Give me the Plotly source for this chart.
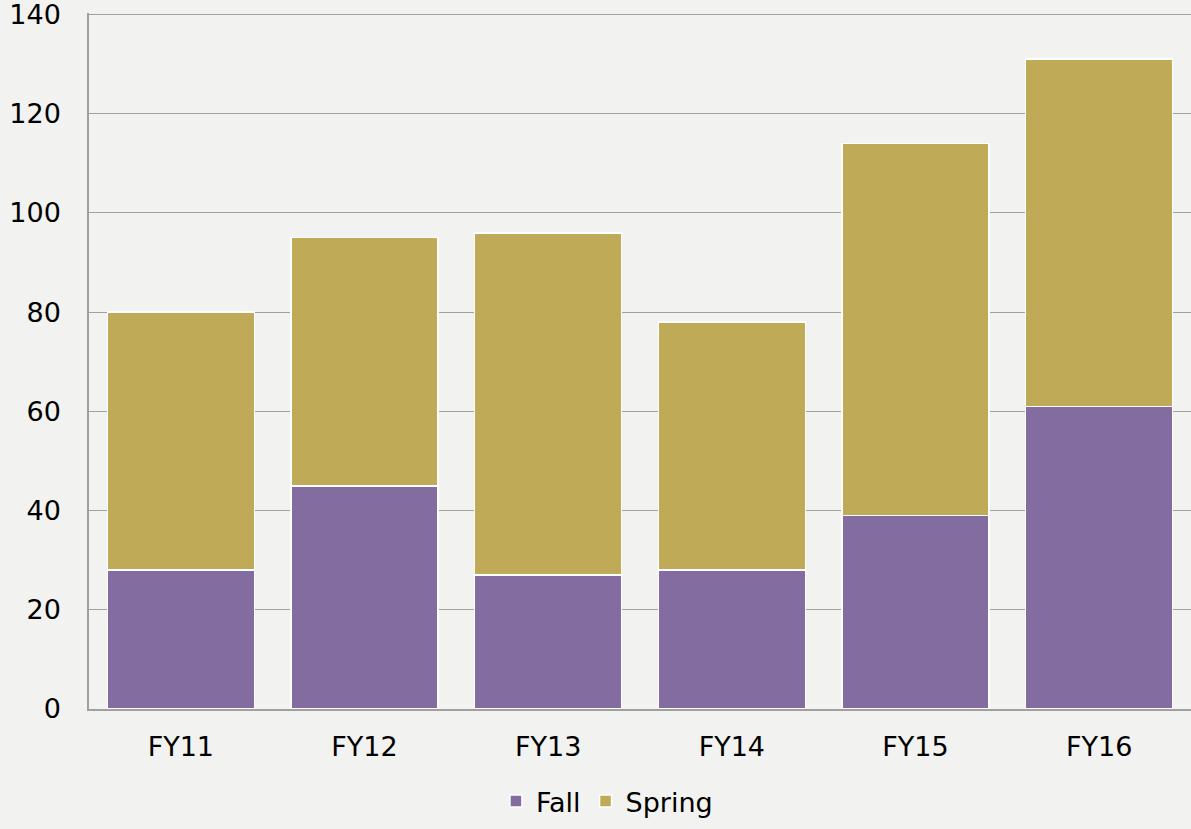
import plotly.graph_objects as go

years = ["FY11", "FY12", "FY13", "FY14", "FY15", "FY16"]
fall = [28, 45, 27, 28, 39, 61]
spring = [52, 50, 69, 50, 75, 70]

fig = go.Figure()
fig.add_trace(go.Bar(x=years, y=fall, name="Fall",
                     marker=dict(color="#836DA0", line=dict(color="white", width=1.5))))
fig.add_trace(go.Bar(x=years, y=spring, name="Spring",
                     marker=dict(color="#BFAB57", line=dict(color="white", width=1.5))))

fig.update_layout(
    barmode="stack",
    bargap=0.2,
    width=1191, height=829,
    margin=dict(l=89, r=0, t=13, b=120),
    paper_bgcolor="#F2F2F0",
    plot_bgcolor="#F2F2F0",
    font=dict(family="DejaVu Sans, sans-serif", size=27, color="black"),
    legend=dict(orientation="h", x=0.47, xanchor="center", y=-0.168, yanchor="bottom",
                font=dict(size=27), itemwidth=30, traceorder="normal"),
)
fig.update_yaxes(range=[0, 140.3], tickvals=[0, 20, 40, 60, 80, 100, 120, 140],
                 ticklabeloverflow="allow",
                 showgrid=True, gridcolor="#A0A0A0", gridwidth=1,
                 showline=True, linecolor="#A0A0A0", linewidth=1.5, zeroline=False,
                 ticks="outside", ticklen=21, tickcolor="rgba(0,0,0,0)")
fig.update_xaxes(showline=True, linecolor="#A0A0A0", linewidth=1.5,
                 ticks="outside", ticklen=13, tickcolor="rgba(0,0,0,0)")

fig.write_html("out.html", config={"displayModeBar": False},
               post_script="document.body.style.margin='0';")
